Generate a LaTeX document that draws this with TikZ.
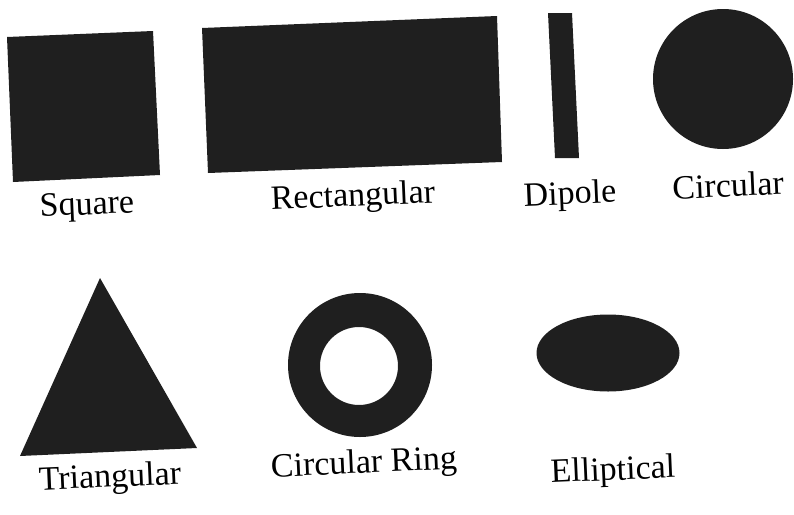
\documentclass[tikz,border=0pt]{standalone}
\usepackage{fontspec}
\setmainfont{Liberation Serif}
\begin{document}
\begin{tikzpicture}[x=1pt,y=-1pt,
  shapefill/.style={fill=black!88},
  lbl/.style={font=\fontsize{34}{40}\selectfont, inner sep=0pt, rotate=2.5}]
\useasboundingbox (0,0) rectangle (794,514);
% top row
\fill[shapefill] (7,37) -- (153,31) -- (160,175) -- (13,182) -- cycle;
\fill[shapefill] (202,28) -- (497,16) -- (502,162) -- (208,173) -- cycle;
\fill[shapefill] (548,13) -- (572,13) -- (579,158) -- (555,158) -- cycle;
\fill[shapefill] (723,79) circle[radius=70pt];
% bottom row
\fill[shapefill] (100,278) -- (197,448) -- (20,456) -- cycle;
\fill[shapefill, even odd rule] (360,365) circle[radius=72pt] (359,366) circle[radius=39pt];
\fill[shapefill] (608,353) ellipse[x radius=71.5pt, y radius=38.5pt];
% labels
\node[lbl] (square) at (87,207) {Square};
\node[lbl] (rect) at (353,198) {Rectangular};
\node[lbl] (dipole) at (570,196) {Dipole};
\node[lbl] (circ) at (728,185) {Circular};
\node[lbl] (tri) at (110,479) {Triangular};
\node[lbl] (ring) at (364,465) {Circular Ring};
\node[lbl] (ell) at (613,472) {Elliptical};
\end{tikzpicture}
\end{document}
